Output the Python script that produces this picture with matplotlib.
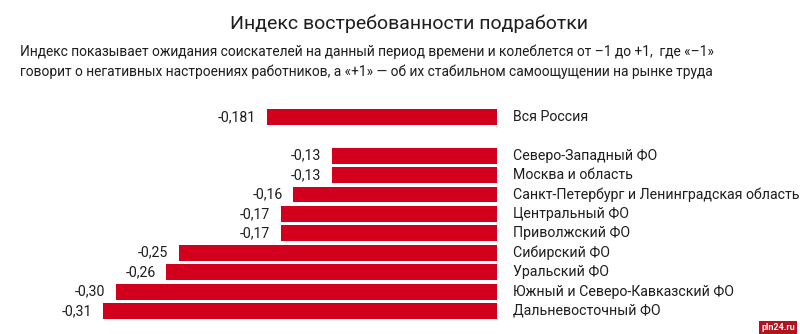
import numpy as np
import matplotlib.pyplot as plt

# --- dati -------------------------------------------------------------
regioni = [
    "Вся Россия",
    "Северо-Западный ФО",
    "Москва и область",
    "Санкт-Петербург и Ленинградская область",
    "Центральный ФО",
    "Приволжский ФО",
    "Сибирский ФО",
    "Уральский ФО",
    "Южный и Северо-Кавказский ФО",
    "Дальневосточный ФО",
]
valori = [-0.181, -0.13, -0.13, -0.16, -0.17, -0.17, -0.25, -0.26, -0.30, -0.31]

titolo = "Индекс востребованности подработки"
sottotitolo = ("Индекс показывает ожидания соискателей на данный период времени и колеблется от –1 до +1,  где «–1»\n"
               "говорит о негативных настроениях работников, а «+1» — об их стабильном самоощущении на рынке труда")

rosso = "#d3001d"
testo = "#1e1e1e"
plt.rcParams["font.family"] = ["Roboto", "DejaVu Sans"]

# riga 0 = Россия, poi uno spazio vuoto
pos = [0] + list(range(2, 2 + len(regioni) - 1))

fig = plt.figure(figsize=(8, 3.34), dpi=100)
ax = fig.add_axes([0, 0.012, 1, 0.689])

ax.barh(pos, valori, height=0.82, color=rosso)
ax.set_xlim(-0.391, 0.2388)
ax.set_ylim(10.98, -0.876)
ax.axis("off")

for y, v, nome in zip(pos, valori, regioni):
    dec = 3 if round(v, 2) != v else 2
    etich = f"{v:.{dec}f}".replace(".", ",")
    ax.text(v - 0.0085, y, etich, ha="right", va="center", fontsize=10.2, color=testo)
    ax.text(0.0126, y, nome, ha="left", va="center", fontsize=10.2, color=testo)

fig.text(409 / 800, 1 - 24 / 334, titolo, ha="center", va="center",
         fontsize=14, fontweight="normal", color=testo)
fig.text(20 / 800, 1 - 62 / 334, sottotitolo, ha="left", va="center",
         fontsize=9.9, color=testo, linespacing=1.5)

# watermark
fig.text(778 / 800, 1 - 328 / 334, "pln24.ru", ha="center", va="center",
         fontsize=6.5, fontweight="bold", color="white",
         bbox=dict(boxstyle="square,pad=0.25", fc="#b3121f", ec="none"))

fig.savefig("out.png", dpi=100)
